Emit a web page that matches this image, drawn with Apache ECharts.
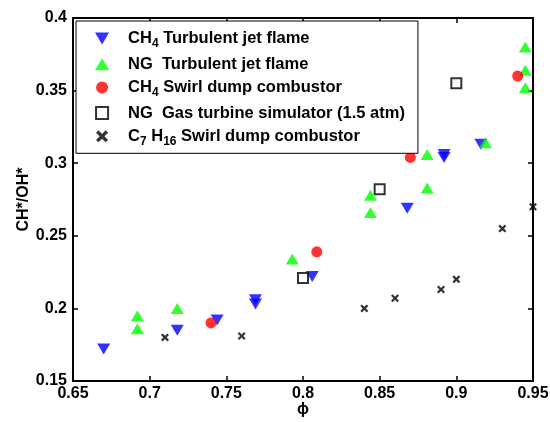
<!DOCTYPE html>
<html>
<head>
<meta charset="utf-8">
<script src="https://cdn.jsdelivr.net/npm/echarts@6/dist/echarts.min.js"></script>
<style>
  html, body { margin: 0; padding: 0; background: #fff; }
  #main { width: 550px; height: 422px; }
</style>
</head>
<body>
<div id="main"></div>
<script>
// data: [phi, CH*/OH*]
var ch4Jet = [[0.67, 0.172], [0.718, 0.185], [0.744, 0.192], [0.769, 0.206], [0.769, 0.203],
    [0.806, 0.222], [0.868, 0.269], [0.892, 0.306], [0.892, 0.304], [0.916, 0.313]]
var ngJet = [[0.692, 0.195], [0.692, 0.186], [0.718, 0.2], [0.793, 0.234], [0.844, 0.278],
    [0.844, 0.266], [0.881, 0.306], [0.881, 0.283], [0.919, 0.314], [0.945, 0.38],
    [0.945, 0.364], [0.945, 0.352]]
var ch4Swirl = [[0.74, 0.19], [0.809, 0.239], [0.87, 0.304], [0.94, 0.36]]
var ngTurbine = [[0.8, 0.221], [0.85, 0.282], [0.9, 0.355]]
var c7Swirl = [[0.71, 0.18], [0.76, 0.181], [0.84, 0.2], [0.86, 0.207], [0.89, 0.213],
    [0.9, 0.22], [0.93, 0.255], [0.95, 0.27]]

var seriesNames = ['CH4 Turbulent jet flame', 'NG Turbulent jet flame', 'CH4 Swirl dump combustor',
    'NG Gas turbine simulator (1.5 atm)', 'C7H16 Swirl dump combustor']
var legendLabels = [
    '{m|CH}{s|4}{m| Turbulent jet flame}',
    '{m|NG  Turbulent jet flame}',
    '{m|CH}{s|4}{m| Swirl dump combustor}',
    '{m|NG  Gas turbine simulator (1.5 atm)}',
    '{m|C}{s|7}{m| H}{s|16}{m| Swirl dump combustor}'
]

var font = 'Liberation Sans, Arial, Helvetica, sans-serif'
var downTri = 'path://M0,0 L10,0 L5,8.5 Z'
var upTri = 'path://M5,0 L10,8.5 L0,8.5 Z'
var square = 'path://M0,0 L10,0 L10,10 L0,10 Z'
var cross = 'path://M0,2 L2,0 L5,3 L8,0 L10,2 L7,5 L10,8 L8,10 L5,7 L2,10 L0,8 L3,5 Z'

var chart = echarts.init(document.getElementById('main'))

var axisCommon = {
    type: 'value',
    axisLine: { show: true, onZero: false, lineStyle: { color: '#000', width: 2 } },
    axisTick: { show: true, inside: true, length: 5, lineStyle: { color: '#000', width: 1.5 } },
    splitLine: { show: false }
}
var labelStyle = { color: '#000', fontFamily: font, fontWeight: 'bold', fontSize: 16 }

chart.setOption({
    animation: false,
    backgroundColor: '#fff',
    grid: { left: 73, right: 17, top: 18, bottom: 41, containLabel: false, outerBoundsMode: 'none' },
    legend: {
        orient: 'vertical',
        left: 76,
        top: 21,
        selectedMode: false,
        data: seriesNames,
        backgroundColor: '#fff',
        borderColor: '#000',
        borderWidth: 1,
        padding: [9, 13, 6, 19],
        itemWidth: 42,
        itemHeight: 12,
        itemGap: 6.2,
        formatter: function (name) {
            return legendLabels[seriesNames.indexOf(name)]
        },
        textStyle: {
            rich: {
                m: { fontFamily: font, fontWeight: 'bold', fontSize: 16.5, lineHeight: 22, color: '#000' },
                s: { fontFamily: font, fontWeight: 'bold', fontSize: 12, lineHeight: 10, verticalAlign: 'bottom', color: '#000' }
            }
        }
    },
    xAxis: [
        Object.assign({}, axisCommon, {
            position: 'bottom', min: 0.65, max: 0.95, interval: 0.05,
            name: 'ϕ', nameLocation: 'middle', nameGap: 21, nameMoveOverlap: false, nameTextStyle: labelStyle,
            axisLabel: Object.assign({ margin: 5 }, labelStyle)
        }),
        Object.assign({}, axisCommon, {
            position: 'top', min: 0.65, max: 0.95, interval: 0.05,
            axisLabel: { show: false }
        })
    ],
    yAxis: [
        Object.assign({}, axisCommon, {
            position: 'left', min: 0.15, max: 0.4, interval: 0.05,
            name: 'CH*/OH*', nameLocation: 'middle', nameGap: 41, nameMoveOverlap: false, nameTextStyle: labelStyle,
            axisLabel: Object.assign({ margin: 6 }, labelStyle)
        }),
        Object.assign({}, axisCommon, {
            position: 'right', min: 0.15, max: 0.4, interval: 0.05,
            axisLabel: { show: false }
        })
    ],
    series: [
        { name: seriesNames[0], type: 'scatter', data: ch4Jet, clip: false,
          symbol: downTri, symbolSize: [13, 11], itemStyle: { color: '#0000ff' } },
        { name: seriesNames[1], type: 'scatter', data: ngJet, clip: false,
          symbol: upTri, symbolSize: [13, 11], itemStyle: { color: '#00ff00' } },
        { name: seriesNames[2], type: 'scatter', data: ch4Swirl, clip: false,
          symbol: 'circle', symbolSize: 11, itemStyle: { color: '#ff0000' } },
        { name: seriesNames[3], type: 'scatter', data: ngTurbine, clip: false,
          symbol: square, symbolSize: 10, itemStyle: { color: '#fff', borderColor: '#000', borderWidth: 2 } },
        { name: seriesNames[4], type: 'scatter', data: c7Swirl, clip: false,
          symbol: cross, symbolSize: 8, itemStyle: { color: '#000' } }
    ]
})
</script>
</body>
</html>
